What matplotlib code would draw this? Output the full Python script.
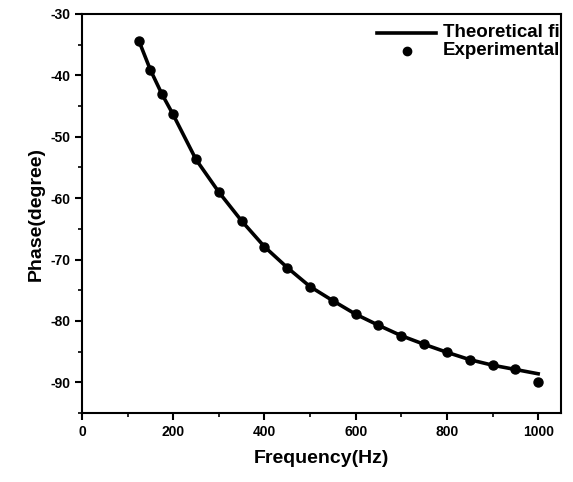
import matplotlib
matplotlib.use("Agg")
import matplotlib.pyplot as plt
from matplotlib.ticker import MultipleLocator

plt.rcParams['font.family'] = ['Liberation Sans', 'DejaVu Sans']
plt.rcParams['axes.unicode_minus'] = False

freq = [125, 150, 175, 200, 250, 300, 350, 400, 450, 500, 550, 600, 650, 700, 750, 800, 850, 900, 950, 1000]
phase_exp = [-34.4, -39.1, -43.0, -46.3, -53.7, -59.0, -63.7, -67.9, -71.3, -74.4, -76.7, -78.9, -80.7,
             -82.4, -83.8, -85.1, -86.3, -87.2, -87.9, -90.0]
phase_fit = [-34.4, -39.1, -43.0, -46.4, -53.7, -59.0, -63.7, -67.9, -71.3, -74.4, -76.7, -78.9, -80.7,
             -82.4, -83.8, -85.1, -86.3, -87.2, -87.9, -88.6]
legend_labels = ["Theoretical fit", "Experimental"]

fig = plt.figure(figsize=(5.73, 4.82), dpi=100)
ax = fig.add_axes([0.143, 0.143, 0.836, 0.828])

ax.plot(freq, phase_fit, color='black', lw=2.6, zorder=2)
ax.plot(freq, phase_exp, 'o', color='black', ms=6.5, zorder=3)

ax.set_xlim(0, 1050)
ax.set_ylim(-95, -30)
ax.xaxis.set_major_locator(MultipleLocator(200))
ax.xaxis.set_minor_locator(MultipleLocator(100))
ax.yaxis.set_major_locator(MultipleLocator(10))
ax.yaxis.set_minor_locator(MultipleLocator(5))
ax.tick_params(which='major', direction='out', length=5, width=1.5, labelsize=10)
ax.tick_params(which='minor', direction='out', length=3, width=1.2)
for lab in ax.get_xticklabels() + ax.get_yticklabels():
    lab.set_fontweight('bold')
for s in ax.spines.values():
    s.set_linewidth(1.5)

ax.set_xlabel("Frequency(Hz)", fontsize=14, fontweight='bold', labelpad=8)
ax.set_ylabel("Phase(degree)", fontsize=14, fontweight='bold', labelpad=4)

# legend drawn manually so it is clipped at the axes edge like the reference
ax.plot([0.617, 0.74], [0.953, 0.953], transform=ax.transAxes, color='black', lw=2.6, clip_on=True)
ax.plot([0.678], [0.908], 'o', transform=ax.transAxes, color='black', ms=6, clip_on=True)
ax.text(0.753, 0.953, legend_labels[0], transform=ax.transAxes, fontsize=13.5, fontweight='bold',
        va='center', ha='left', clip_on=True)
ax.text(0.753, 0.908, legend_labels[1], transform=ax.transAxes, fontsize=13.5, fontweight='bold',
        va='center', ha='left', clip_on=True)

fig.savefig("out.png", dpi=100)
